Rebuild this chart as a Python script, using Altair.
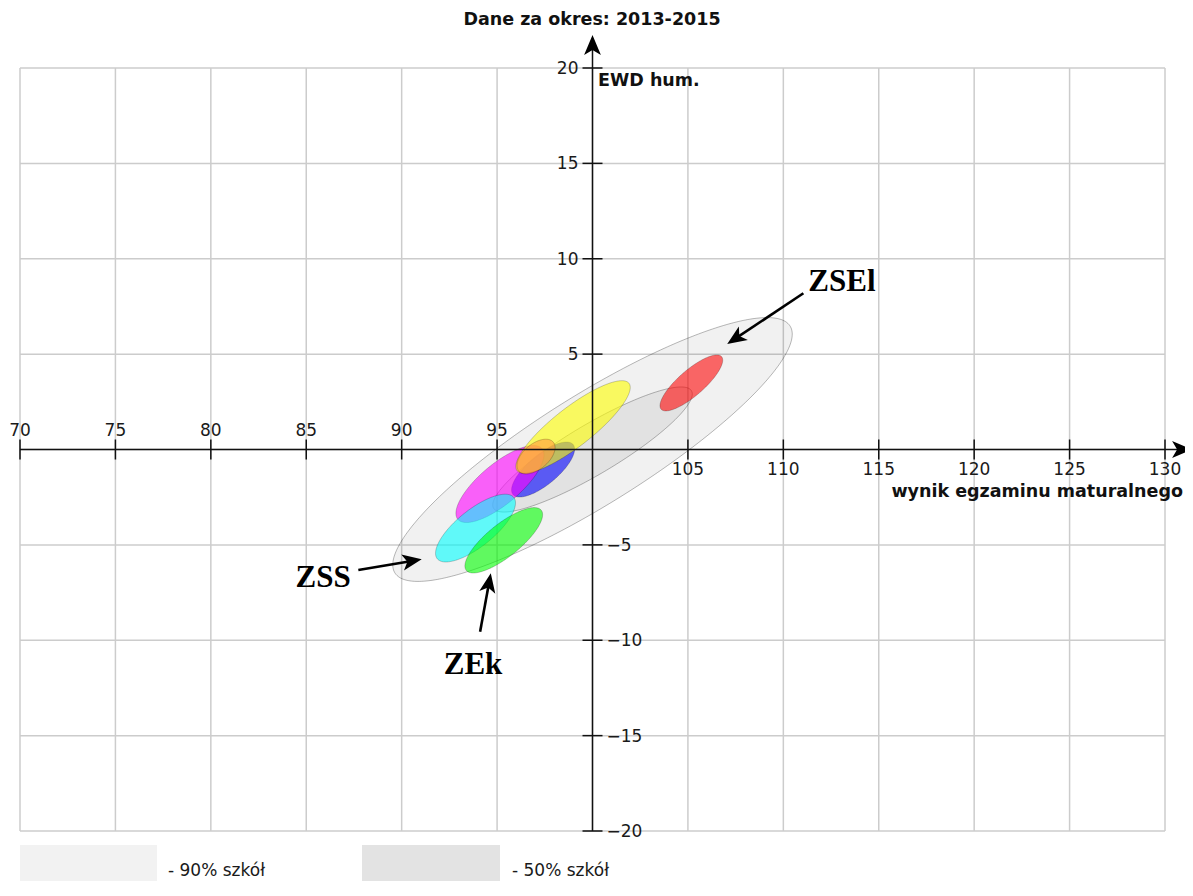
import math
import altair as alt
import pandas as pd

# ---------------- data ----------------
title_text = "Dane za okres: 2013-2015"
x_title = "wynik egzaminu maturalnego"
y_title = "EWD hum."

x_grid = [70, 75, 80, 85, 90, 95, 100, 105, 110, 115, 120, 125, 130]
y_grid = [-20, -15, -10, -5, 0, 5, 10, 15, 20]
x_ticks_neg = [70, 75, 80, 85, 90, 95]
x_ticks_pos = [105, 110, 115, 120, 125, 130]
y_ticks_pos = [5, 10, 15, 20]
y_ticks_neg = [-5, -10, -15, -20]

# ellipses: centre, semi-axes (data units), rotation (deg)
ell_name = ["90% szkół", "50% szkół", "blue", "magenta", "yellow", "cyan", "green", "red", "orange"]
ell_cx = [100.0, 100.0, 97.41, 95.15, 98.98, 93.87, 95.35, 105.18, 97.04]
ell_cy = [0.0, 0.0, -1.05, -1.81, 1.18, -4.12, -4.76, 3.49, -0.37]
ell_a = [12.21, 6.03, 2.05, 2.88, 3.72, 2.57, 2.52, 2.10, 1.18]
ell_b = [2.88, 1.31, 0.78, 1.05, 1.02, 0.97, 0.86, 0.67, 0.66]
ell_angle = [32.0, 30.7, 39.8, 40.0, 38.0, 38.7, 38.8, 41.0, 40.0]
ell_fill = ["#000000", "#000000", "#0000ff", "#ff00ff", "#ffff00", "#00ffff", "#00ff00", "#ff0000", "#ff9a3c"]
ell_opacity = [0.055, 0.06, 0.6, 0.6, 0.6, 0.6, 0.6, 0.58, 0.6]

# annotations
ann_label = ["ZSEl", "ZSS", "ZEk"]
ann_lx = [113.07, 85.88, 93.74]
ann_ly = [8.78, -6.74, -11.30]
arr_x0 = [111.05, 87.73, 94.11]
arr_y0 = [8.19, -6.32, -9.55]
arr_x1 = [107.06, 91.05, 94.67]
arr_y1 = [5.53, -5.76, -6.49]

# axis lines with arrow tips
axis_x_start, axis_x_tip = 70.0, 131.42
axis_y_start, axis_y_tip = -20.0, 21.73

legend_labels = ["- 90% szkół", "- 50% szkół"]
legend_colors = ["#f2f2f2", "#e3e3e3"]

# ---------------- helpers ----------------
W, H = 1145, 763
xs = alt.Scale(domain=[70, 130], nice=False, zero=False)
ys = alt.Scale(domain=[-20, 20], nice=False, zero=False)
ARROW = "M0,0 L-0.42,1 L0,0.75 L0.42,1 Z"
FONT = "DejaVu Sans"


def ellipse_df(i, n=181):
    cx, cy, a, b = ell_cx[i], ell_cy[i], ell_a[i], ell_b[i]
    t = math.radians(ell_angle[i])
    c, s = math.cos(t), math.sin(t)
    A = c * c / a ** 2 + s * s / b ** 2
    B = 2 * s * c * (1 / a ** 2 - 1 / b ** 2)
    C = s * s / a ** 2 + c * c / b ** 2
    w = math.sqrt(a * a * c * c + b * b * s * s)
    rows = []
    for k in range(n):
        dx = -w * math.cos(math.pi * k / (n - 1))
        disc = max(B * B * dx * dx - 4 * C * (A * dx * dx - 1), 0.0)
        r = math.sqrt(disc)
        lo = (-B * dx - r) / (2 * C)
        hi = (-B * dx + r) / (2 * C)
        rows.append({"x": cx + dx, "ylo": cy + lo, "yhi": cy + hi})
    return pd.DataFrame(rows)


def X(f):
    return alt.X(f, type="quantitative", scale=xs, axis=None)


def Y(f):
    return alt.Y(f, type="quantitative", scale=ys, axis=None)


layers = []

# grid
gx = alt.Chart(pd.DataFrame({"v": x_grid})).mark_rule(color="#cccccc", strokeWidth=1.5).encode(
    x=X("v"), y=alt.value(0), y2=alt.value(H))
gy = alt.Chart(pd.DataFrame({"v": y_grid})).mark_rule(color="#cccccc", strokeWidth=1.5).encode(
    y=Y("v"), x=alt.value(0), x2=alt.value(W))
layers += [gx, gy]

# ellipses
for i in range(len(ell_name)):
    gray = i < 2
    layers.append(
        alt.Chart(ellipse_df(i)).mark_area(
            fill=ell_fill[i], fillOpacity=ell_opacity[i],
            stroke="#000000", strokeOpacity=0.28 if gray else 0.2, strokeWidth=1,
        ).encode(x=X("x"), y=Y("ylo"), y2="yhi:Q")
    )

# central axes lines
ax_df = pd.DataFrame({"x0": [axis_x_start, 100.0], "x1": [axis_x_tip - 0.5, 100.0],
                      "y0": [0.0, axis_y_start], "y1": [0.0, axis_y_tip - 0.5]})
layers.append(alt.Chart(ax_df).mark_rule(color="#111111", strokeWidth=1.5).encode(
    x=X("x0"), x2="x1:Q", y=Y("y0"), y2="y1:Q"))

# ticks
layers.append(alt.Chart(pd.DataFrame({"v": x_ticks_neg + x_ticks_pos, "z": 0.0})).mark_tick(
    orient="vertical", size=20, thickness=1.5, color="#111111", opacity=1).encode(x=X("v"), y=Y("z")))
layers.append(alt.Chart(pd.DataFrame({"v": y_ticks_pos + y_ticks_neg, "z": 100.0})).mark_tick(
    orient="horizontal", size=20, thickness=1.5, color="#111111", opacity=1).encode(y=Y("v"), x=X("z")))

# tick labels
lab = dict(font=FONT, fontSize=17, color="#1a1a1a")
layers.append(alt.Chart(pd.DataFrame({"v": x_ticks_neg, "z": 0.0})).mark_text(
    align="center", baseline="middle", dy=-19, **lab).encode(x=X("v"), y=Y("z"), text="v:Q"))
layers.append(alt.Chart(pd.DataFrame({"v": x_ticks_pos, "z": 0.0})).mark_text(
    align="center", baseline="middle", dy=20, **lab).encode(x=X("v"), y=Y("z"), text="v:Q"))
layers.append(alt.Chart(pd.DataFrame({"v": y_ticks_pos, "z": 100.0})).mark_text(
    align="right", baseline="middle", dx=-14, dy=1, **lab).encode(y=Y("v"), x=X("z"), text="v:Q"))
layers.append(alt.Chart(pd.DataFrame({"v": y_ticks_neg, "z": 100.0})).mark_text(
    align="left", baseline="middle", dx=14, dy=1, **lab).encode(y=Y("v"), x=X("z"), text="v:Q"))

# arrowheads (axes + annotations)
head_x, head_y, head_ang, head_size = [axis_x_tip, 100.0], [0.0, axis_y_tip], [90.0, 0.0], [1600, 1600]
line_rows = []
for i in range(len(ann_label)):
    dx, dy = arr_x1[i] - arr_x0[i], arr_y1[i] - arr_y0[i]
    L = math.hypot(dx, dy)
    ang = math.degrees(math.atan2(dx, dy)) % 360
    head_x.append(arr_x1[i]); head_y.append(arr_y1[i]); head_ang.append(ang); head_size.append(1500)
    line_rows.append({"x0": arr_x0[i], "y0": arr_y0[i],
                      "x1": arr_x1[i] - dx / L * 0.6, "y1": arr_y1[i] - dy / L * 0.6})
layers.append(alt.Chart(pd.DataFrame(line_rows)).mark_rule(color="#000000", strokeWidth=2.6).encode(
    x=X("x0"), x2="x1:Q", y=Y("y0"), y2="y1:Q"))
layers.append(alt.Chart(pd.DataFrame({"x": head_x, "y": head_y, "a": head_ang, "s": head_size})).mark_point(
    shape=ARROW, filled=True, color="#000000", opacity=1, strokeWidth=0).encode(
    x=X("x"), y=Y("y"), angle=alt.Angle("a:Q", scale=None), size=alt.Size("s:Q", scale=None)))

# annotation labels
layers.append(alt.Chart(pd.DataFrame({"x": ann_lx, "y": ann_ly, "t": ann_label})).mark_text(
    font="Liberation Serif", fontWeight="bold", fontSize=31, color="#000000",
    align="center", baseline="middle").encode(x=X("x"), y=Y("y"), text="t:N"))

# axis titles
bold = dict(font=FONT, fontWeight="bold", fontSize=17.5, color="#111111")
layers.append(alt.Chart(pd.DataFrame({"t": [y_title]})).mark_text(
    align="left", baseline="middle", **bold).encode(text="t:N", x=alt.value(578), y=alt.value(13)))
layers.append(alt.Chart(pd.DataFrame({"t": [x_title]})).mark_text(
    align="right", baseline="middle", **bold).encode(text="t:N", x=alt.value(1163), y=alt.value(424)))
layers.append(alt.Chart(pd.DataFrame({"t": [title_text]})).mark_text(
    align="center", baseline="middle", **bold).encode(text="t:N", x=alt.value(572), y=alt.value(-48)))

# legend
leg = pd.DataFrame({"t": legend_labels, "c": legend_colors, "x0": [0, 342], "x1": [137, 480],
                    "tx": [148, 492]})
layers.append(alt.Chart(leg).mark_rect().encode(
    x=alt.X("x0:Q", scale=None, axis=None), x2="x1:Q",
    y=alt.value(777), y2=alt.value(840), fill=alt.Fill("c:N", scale=None)))
layers.append(alt.Chart(leg).mark_text(
    align="left", baseline="middle", font=FONT, fontSize=17, color="#1a1a1a").encode(
    x=alt.X("tx:Q", scale=None, axis=None), y=alt.value(803), text="t:N"))

chart = alt.layer(*layers).resolve_scale(x="shared", y="shared").properties(
    width=W, height=H,
    autosize=alt.AutoSizeParams(type="none"),
    padding={"left": 12, "top": 60, "right": 20, "bottom": 50},
    background="white",
).configure_view(stroke=None)

chart.save("out.html", embed_options={"renderer": "svg", "actions": False})
